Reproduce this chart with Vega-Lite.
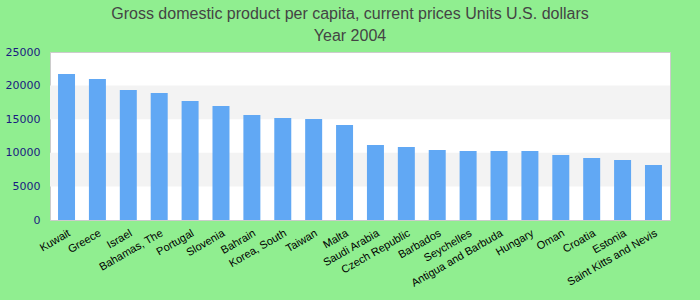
{
  "$schema": "https://vega.github.io/schema/vega-lite/v6.json",
  "width": 620,
  "height": 168,
  "autosize": {"type": "none"},
  "padding": {"left": 50, "top": 52, "right": 30, "bottom": 80},
  "background": "#90ee90",
  "title": {
    "text": ["Gross domestic product per capita, current prices Units U.S. dollars", "Year 2004"],
    "fontSize": 16,
    "font": "Liberation Sans",
    "fontWeight": "normal",
    "color": "#444444",
    "lineHeight": 22,
    "anchor": "middle",
    "dx": -10,
    "offset": 2
  },
  "config": {
    "view": {"stroke": "#cccccc", "fill": "white"},
    "axisY": {
      "title": null,
      "grid": false,
      "ticks": false,
      "domain": false,
      "labelOverlap": false,
      "labelFont": "DejaVu Sans",
      "labelFontSize": 11,
      "labelColor": "#1a1a80",
      "labelPadding": 10
    }
  },
  "layer": [
    {
      "data": {"values": [{"lo": 5000, "hi": 10000}, {"lo": 15000, "hi": 20000}]},
      "mark": {"type": "rect", "color": "#f3f3f3"},
      "encoding": {
        "y": {"field": "lo", "type": "quantitative", "scale": {"domain": [0, 25000]}, "axis": {"values": [0, 5000, 10000, 15000, 20000, 25000], "format": "d", "labelOverlap": false}},
        "y2": {"field": "hi"}
      }
    },
    {
      "data": {
        "values": [
          {"country": "Kuwait", "gdp": 21730},
          {"country": "Greece", "gdp": 20980},
          {"country": "Israel", "gdp": 19345},
          {"country": "Bahamas, The", "gdp": 18900},
          {"country": "Portugal", "gdp": 17710},
          {"country": "Slovenia", "gdp": 16960},
          {"country": "Bahrain", "gdp": 15625},
          {"country": "Korea, South", "gdp": 15180},
          {"country": "Taiwan", "gdp": 15030},
          {"country": "Malta", "gdp": 14140},
          {"country": "Saudi Arabia", "gdp": 11160},
          {"country": "Czech Republic", "gdp": 10860},
          {"country": "Barbados", "gdp": 10420},
          {"country": "Seychelles", "gdp": 10270},
          {"country": "Antigua and Barbuda", "gdp": 10260},
          {"country": "Hungary", "gdp": 10250},
          {"country": "Oman", "gdp": 9670},
          {"country": "Croatia", "gdp": 9230},
          {"country": "Estonia", "gdp": 8930},
          {"country": "Saint Kitts and Nevis", "gdp": 8180}
        ]
      },
      "mark": {"type": "bar", "color": "#61a8f4"},
      "encoding": {
        "x": {
          "field": "country",
          "type": "nominal",
          "sort": null,
          "scale": {"paddingInner": 0.45, "paddingOuter": 0.26},
          "axis": {
            "title": null,
            "labelAngle": -30,
            "labelFont": "Liberation Sans",
            "labelFontSize": 11,
            "labelColor": "#000000",
            "labelOverlap": false,
            "ticks": false,
            "domain": false,
            "labelPadding": 7
          }
        },
        "y": {
          "field": "gdp",
          "type": "quantitative",
          "scale": {"domain": [0, 25000]},
          "axis": {"values": [0, 5000, 10000, 15000, 20000, 25000], "format": "d", "labelOverlap": false}
        }
      }
    }
  ]
}
